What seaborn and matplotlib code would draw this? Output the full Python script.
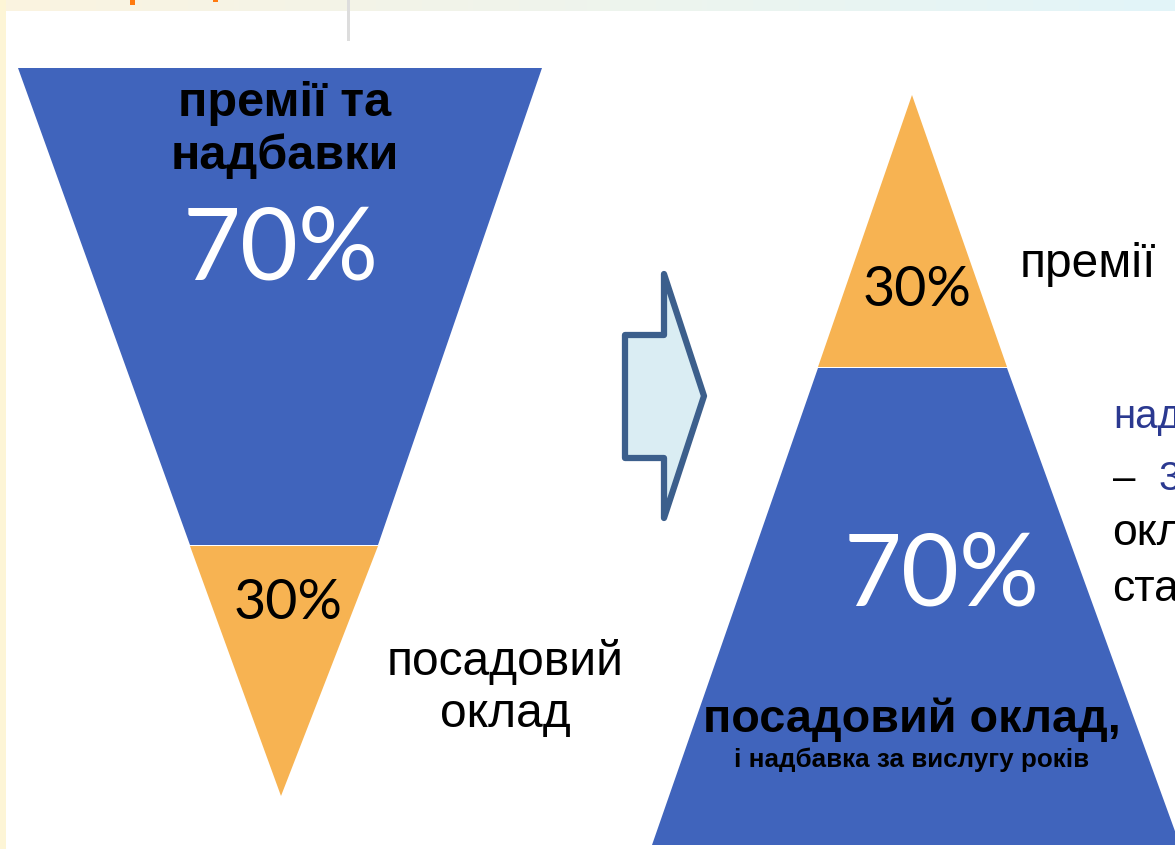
import numpy as np
import seaborn as sns
from matplotlib import pyplot as plt
from matplotlib.patches import Polygon

# values shown on the slide
before_labels = ['премії та', 'надбавки', 'посадовий', 'оклад']
before_shares = [70, 30]
after_labels = ['премії', 'посадовий оклад,']
after_shares = [30, 70]
after_note = 'і надбавка за вислугу років'
side_lines = ['надбавки', '– ', '30%', 'окладу', 'ставки']

BLUE = '#4064bc'
ORANGE = '#f7b352'
NAVY = '#2b3990'

sns.set_style('white')
plt.rcParams['font.family'] = ['Liberation Sans', 'DejaVu Sans']
plt.rcParams['text.color'] = 'black'
NUM_FONT = ['Lato', 'DejaVu Sans']

W, H = 1175, 849
fig = plt.figure(figsize=(W / 100, H / 100), dpi=100)
ax = fig.add_axes([0, 0, 1, 1])
ax.set_xlim(0, W)
ax.set_ylim(H, 0)
ax.axis('off')

# slide background: top gradient strip and pale left edge
grad = np.linspace(0, 1, 256).reshape(1, -1)
c0 = np.array([251, 243, 224]) / 255
c1 = np.array([226, 245, 249]) / 255
strip = c0[None, None, :] * (1 - grad[..., None]) + c1[None, None, :] * grad[..., None]
ax.imshow(strip, extent=(0, W, 11, 0), aspect='auto', zorder=0)
ax.add_patch(plt.Rectangle((0, 0), 6, H, color='#fdf5d6', lw=0, zorder=0))
ax.add_patch(plt.Rectangle((347, 0), 3, 41, color='#dddddd', lw=0, zorder=1))
ax.add_patch(plt.Rectangle((130, 0), 5, 5, color='#ff7a10', lw=0, zorder=1))
ax.add_patch(plt.Rectangle((213, 0), 5, 2, color='#ff7a10', lw=0, zorder=1))

# left: inverted pyramid
ax.add_patch(Polygon([(18, 68), (542, 68), (378, 545), (190, 545)], closed=True,
                     color=BLUE, lw=0))
ax.add_patch(Polygon([(190, 546), (378, 546), (281, 796)], closed=True,
                     color=ORANGE, lw=0))
ax.text(285, 116, before_labels[0], ha='center', va='baseline', fontsize=35,
        fontweight='bold')
ax.text(285, 169, before_labels[1], ha='center', va='baseline', fontsize=35,
        fontweight='bold')
ax.text(281, 280, f'{before_shares[0]}%', ha='center', va='baseline',
        fontsize=72, color='white', family=NUM_FONT)
ax.text(288, 619, f'{before_shares[1]}%', ha='center', va='baseline',
        fontsize=40, family=NUM_FONT)
ax.text(505, 675, before_labels[2], ha='center', va='baseline', fontsize=34.5)
ax.text(505, 727, before_labels[3], ha='center', va='baseline', fontsize=34.5)

# arrow
ax.add_patch(Polygon([(625, 335), (664, 335), (664, 274), (704, 396),
                      (664, 518), (664, 458), (625, 458)], closed=True,
                     facecolor='#daedf3', edgecolor='#3c5f8c', lw=4.5,
                     joinstyle='round'))

# right: pyramid
ax.add_patch(Polygon([(912, 95), (1007, 367), (818, 367)], closed=True,
                     color=ORANGE, lw=0))
ax.add_patch(Polygon([(818, 368), (1007, 368), (1180, 845), (652, 845)],
                     closed=True, color=BLUE, lw=0))
ax.text(917, 306, f'{after_shares[0]}%', ha='center', va='baseline',
        fontsize=40, family=NUM_FONT)
ax.text(1020, 277, after_labels[0], ha='left', va='baseline', fontsize=34.5)
ax.text(942, 606, f'{after_shares[1]}%', ha='center', va='baseline',
        fontsize=72, color='white', family=NUM_FONT)
ax.text(912, 732, after_labels[1], ha='center', va='baseline', fontsize=33.7,
        fontweight='bold')
ax.text(912, 767, after_note, ha='center', va='baseline', fontsize=18.7,
        fontweight='bold')

# side text, cut off by the right edge as on the slide
ax.text(1113, 428, side_lines[0], ha='left', va='baseline', fontsize=29,
        color=NAVY)
ax.text(1113, 490, side_lines[1], ha='left', va='baseline', fontsize=29)
ax.text(1158, 490, side_lines[2], ha='left', va='baseline', fontsize=29,
        color=NAVY)
ax.text(1112, 545, side_lines[3], ha='left', va='baseline', fontsize=32)
ax.text(1112, 601, side_lines[4], ha='left', va='baseline', fontsize=32)

fig.savefig('out.png', dpi=100)
